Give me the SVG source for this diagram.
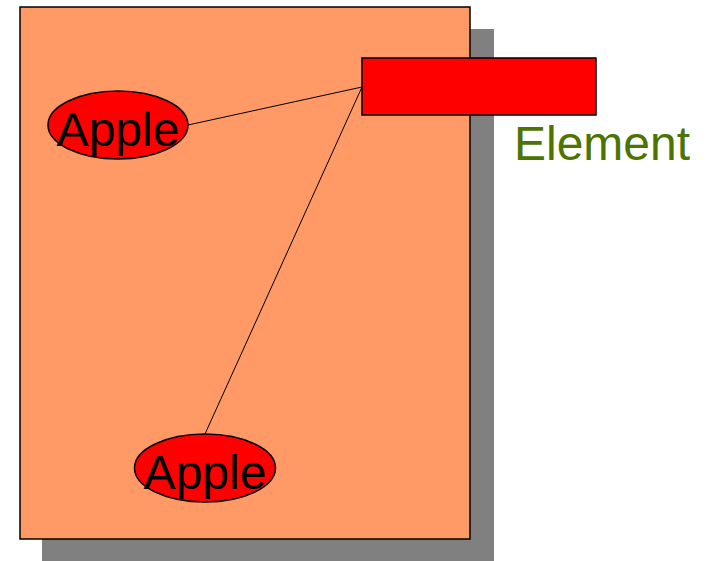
<svg xmlns="http://www.w3.org/2000/svg" width="706" height="561" viewBox="0 0 706 561">
<style>
.lbl{font-family:"Liberation Sans",Arial,sans-serif;font-size:48px;text-anchor:middle}
.node{fill:#ff0000;stroke:#000;stroke-width:1.5}
.conn{stroke:#000;stroke-width:1;fill:none}
</style>
<rect width="706" height="561" fill="#fff"/>
<g id="frame">
<rect x="42" y="29" width="452" height="532" fill="#808080"/>
<rect x="20" y="7" width="450" height="532" fill="#ff9966" stroke="#000" stroke-width="1.5"/>
</g>
<g id="connectors">
<line class="conn" x1="188" y1="125" x2="362" y2="87"/>
<line class="conn" x1="362" y1="87" x2="205" y2="434"/>
</g>
<g id="apple1">
<ellipse class="node" cx="118" cy="125" rx="70" ry="34"/>
<text class="lbl" x="118" y="146">Apple</text>
</g>
<g id="apple2">
<ellipse class="node" cx="205" cy="468" rx="70.5" ry="34"/>
<text class="lbl" x="205" y="489">Apple</text>
</g>
<g id="element">
<rect class="node" x="362" y="58" width="234" height="57"/>
<text class="lbl" x="602" y="160" fill="#4d7300">Element</text>
</g>
</svg>
